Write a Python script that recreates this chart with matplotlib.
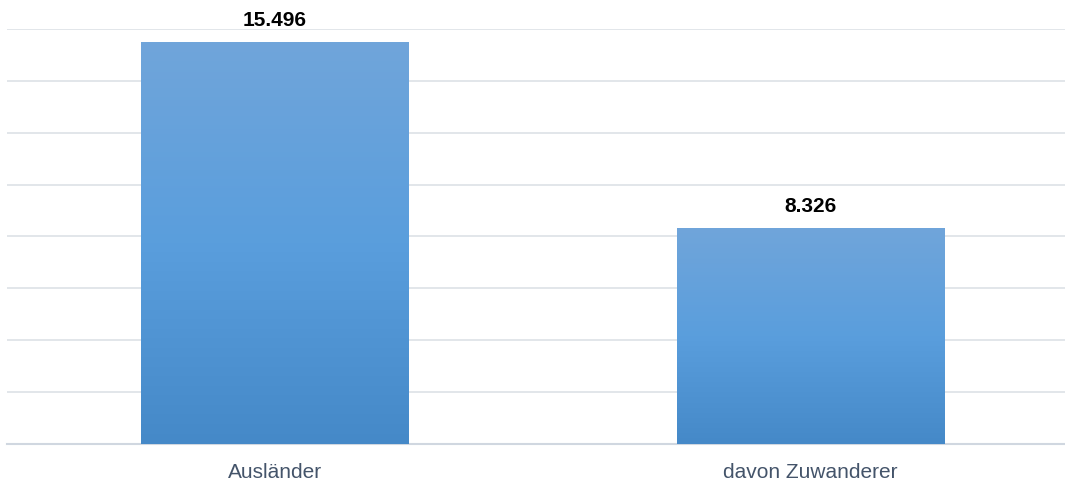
import matplotlib
matplotlib.use('Agg')
import matplotlib.pyplot as plt
import numpy as np
from matplotlib.colors import LinearSegmentedColormap

categories = ['Ausländer', 'davon Zuwanderer']
values = [15496, 8326]
value_labels = ['15.496', '8.326']

plt.rcParams['font.family'] = ['Liberation Sans', 'DejaVu Sans']

fig = plt.figure(figsize=(10.65, 4.83), dpi=100)
# axes spans a bit past the right edge, like the original
ax = fig.add_axes([7.25 / 1065, 39 / 483, 1071 / 1065, 415 / 483])

x = np.arange(len(categories))
bars = ax.bar(x, values, width=0.5, color='none', zorder=3)

# vertical gradient for each bar (dark at bottom, lighter at top)
cmap = LinearSegmentedColormap.from_list('bar', ['#4589C8', '#5A9EDD', '#70A5DA'])
grad = np.linspace(0, 1, 256).reshape(-1, 1)
for b in bars:
    x0, y0 = b.get_x(), b.get_y()
    w, h = b.get_width(), b.get_height()
    im = ax.imshow(grad, cmap=cmap, origin='lower', aspect='auto',
                   extent=[x0, x0 + w, y0, y0 + h], zorder=3)
    im.set_clip_path(b)

for xi, v, lab in zip(x, values, value_labels):
    ax.annotate(lab, (xi, v), xytext=(0, 9), textcoords='offset points',
                ha='center', va='bottom', fontsize=15, fontweight='bold',
                color='#000000')

ax.set_xlim(-0.5, 1.5)
ax.set_ylim(0, 16000)
ax.set_yticks(np.arange(0, 16001, 2000))
ax.yaxis.grid(True, color='#DDE1E6', linewidth=1.2, zorder=0)
ax.set_axisbelow(True)
ax.tick_params(axis='y', left=False, labelleft=False)
ax.tick_params(axis='x', bottom=False, pad=10)
ax.set_xticks(x)
ax.set_xticklabels(categories, fontsize=15, color='#44546A')
for s in ['top', 'right', 'left']:
    ax.spines[s].set_visible(False)
ax.spines['bottom'].set_color('#D0D7E0')
ax.spines['bottom'].set_linewidth(1.5)

fig.savefig('out.png', dpi=100)
